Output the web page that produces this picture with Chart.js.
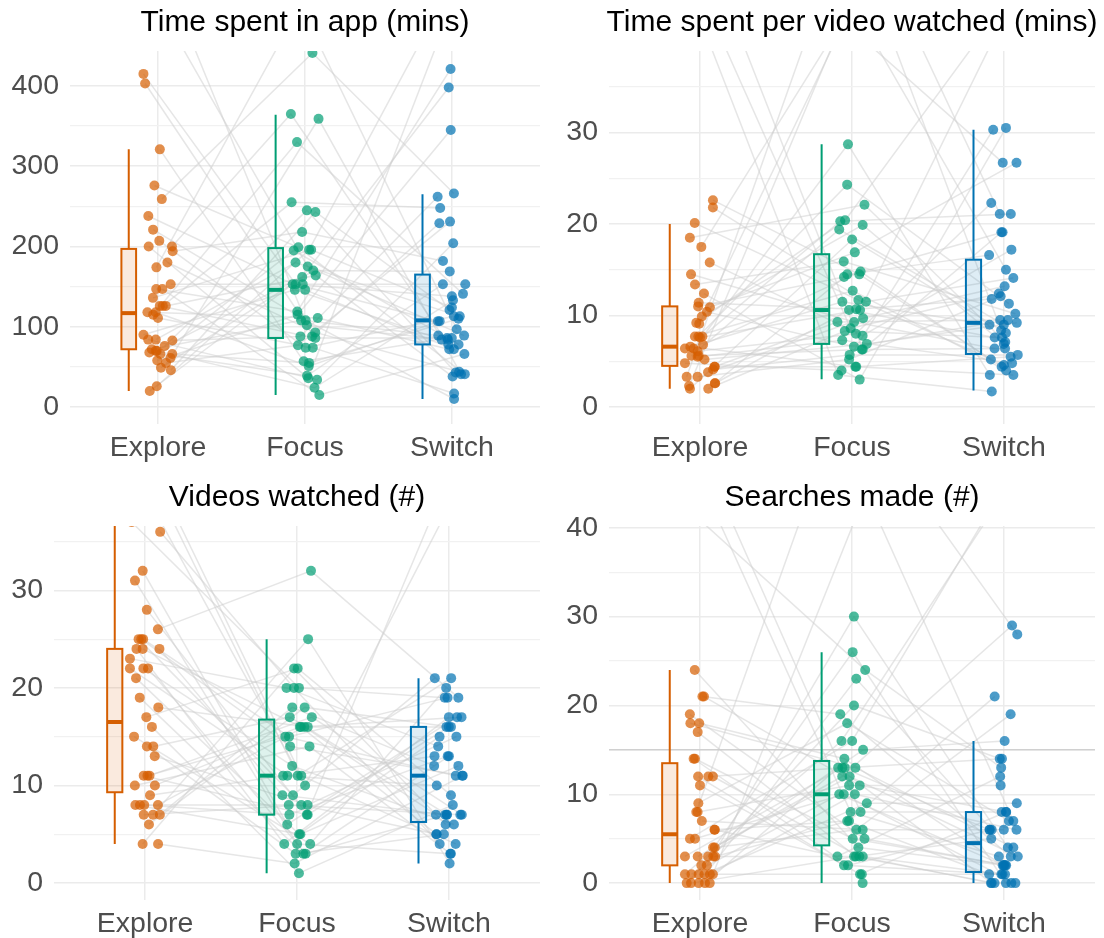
<!DOCTYPE html>
<html>
<head>
<meta charset="utf-8">
<script src="https://cdn.jsdelivr.net/npm/chart.js@4.4.1/dist/chart.umd.min.js"></script>
<style>
  body { margin: 0; background: #fff; }
  .panel { position: absolute; width: 552px; height: 469px; }
</style>
</head>
<body>
<div class="panel" style="left:0;top:0"><canvas id="c1" width="552" height="469"></canvas></div>
<div class="panel" style="left:552px;top:0"><canvas id="c2" width="552" height="469"></canvas></div>
<div class="panel" style="left:0;top:469px"><canvas id="c3" width="552" height="469"></canvas></div>
<div class="panel" style="left:552px;top:469px"><canvas id="c4" width="552" height="469"></canvas></div>
<script>
const groups = ['Explore', 'Focus', 'Switch'];
const colors = ['#D55E00', '#009E73', '#0072B2'];
const dots = ['rgba(213,94,0,0.7)', 'rgba(0,158,115,0.7)', 'rgba(0,114,178,0.7)'];
const fills = ['rgba(213,94,0,0.13)', 'rgba(0,158,115,0.13)', 'rgba(0,114,178,0.13)'];

// Time spent in app (mins) - one entry per participant, values past the top are clipped
const appExplore = [415, 520, 403, 321, 276, 70, 259, 238, 221, 207, 200, 480, 200, 194, 180, 174, 153, 147, 147, 136, 126, 126, 126, 118, 118, 115, 111, 90, 84, 84, 83, 76, 72, 70, 68, 66, 66, 61, 58, 55, 49, 46, 26, 20];
const appFocus = [153, 88, 102, 57, 199, 24, 441, 146, 108, 74, 365, 175, 36, 218, 93, 500, 153, 119, 15, 196, 164, 86, 255, 51, 111, 330, 74, 146, 34, 180, 88, 245, 108, 162, 39, 195, 55, 359, 115, 77, 170, 243, 196, 153];
const appSwitch = [107, 229, 84, 86, 41, 133, 266, 72, 10, 113, 78, 89, 530, 182, 44, 97, 153, 421, 66, 124, 38, 86, 248, 107, 72, 141, 17, 84, 204, 113, 262, 43, 89, 398, 153, 78, 110, 41, 345, 231, 169, 121, 500, 138];
// box stats: [low whisker, q1, median, q3, high whisker]
const appBoxes = [[20, 72, 117, 197, 321], [15, 86, 146, 198, 364], [10, 78, 108, 165, 265]];
const appTicks = [0, 100, 200, 300, 400];
const appMinor = [50, 150, 250, 350];

// Time spent per video watched (mins)
const vidExplore = [6.4, 22.6, 3.3, 45, 9.2, 5.6, 12.4, 2.0, 7.7, 17.5, 4.4, 10.9, 6.6, 2.6, 15.8, 7.7, 4.1, 11.0, 5.2, 20.1, 3.8, 9.9, 41, 6.1, 2.3, 13.4, 7.6, 4.8, 18.5, 5.5, 2.6, 10.4, 6.4, 3.3, 14.5, 7.7, 4.4, 21.8, 9.1, 2.0, 6.8, 48, 11.4, 5.6];
const vidFocus = [11.5, 14.5, 55, 8.6, 20.4, 6.3, 3.0, 18.3, 12.7, 44, 9.3, 16.9, 4.4, 10.6, 7.8, 24.3, 5.7, 14.2, 6.9, 11.7, 9.7, 19.9, 3.5, 8.0, 48, 15.9, 10.6, 4.0, 22.1, 7.3, 14.5, 6.6, 28.7, 5.2, 9.3, 20.3, 4.4, 11.5, 42, 8.3, 14.8, 6.3, 10.7, 19.4];
const vidSwitch = [9.0, 5.2, 21.1, 12.4, 46, 6.4, 30.5, 8.1, 4.0, 15.0, 9.5, 26.7, 3.5, 7.6, 17.2, 11.3, 5.7, 19.1, 9.2, 4.6, 13.2, 6.9, 1.7, 22.3, 8.4, 10.2, 43, 30.3, 7.1, 4.8, 16.6, 9.5, 3.5, 12.1, 6.4, 21.1, 5.5, 14.1, 26.7, 7.6, 4.4, 19.1, 11.8, 9.0];
const vidBoxes = [[2.0, 4.5, 6.6, 11.0, 20.0], [3.05, 6.9, 10.6, 16.7, 28.7], [1.8, 5.8, 9.2, 16.1, 30.3]];
const vidTicks = [0, 10, 20, 30];
const vidMinor = [5, 15, 25, 35];

// Videos watched (#)
const watchExplore = [22, 8, 37, 14, 25, 11, 6, 31, 44, 17, 24, 10, 8, 36, 13, 22, 4, 25, 11, 19, 7, 28, 9, 24, 15, 8, 40, 23, 10, 32, 7, 16, 25, 4, 21, 11, 41, 26, 8, 14, 22, 18, 7, 24];
const watchFocus = [11, 16, 20, 3, 14, 7, 18, 4, 11, 22, 9, 16, 5, 20, 8, 12, 2, 15, 17, 3, 25, 7, 11, 16, 4, 8, 10, 20, 14, 6, 18, 1, 9, 22, 5, 15, 11, 32, 7, 17, 3, 16, 8, 4];
const watchSwitch = [13, 7, 19, 5, 11, 42, 16, 3, 21, 9, 7, 17, 12, 4, 15, 6, 11, 19, 7, 13, 2, 16, 10, 5, 20, 7, 39, 14, 3, 17, 12, 8, 21, 6, 15, 11, 4, 19, 13, 7, 7, 16, 5, 17];
const watchBoxes = [[4, 9.3, 16.5, 24, 37], [1, 7, 11, 16.75, 25], [2, 6.25, 11, 16, 21]];
const watchTicks = [0, 10, 20, 30];
const watchMinor = [5, 15, 25, 35];

// Searches made (#)
const searchExplore = [3, 12, 0, 45, 8, 1, 21, 5, 14, 2, 6, 1, 18, 3, 0, 9, 4, 12, 1, 24, 3, 7, 0, 17, 42, 5, 11, 1, 19, 3, 6, 2, 14, 8, 0, 21, 4, 1, 18, 12, 48, 3, 0, 1];
const searchFocus = [13, 3, 20, 8, 55, 1, 11, 16, 5, 26, 3, 10, 13, 7, 0, 18, 12, 2, 9, 4, 15, 6, 13, 3, 24, 10, 1, 16, 5, 12, 7, 30, 2, 11, 3, 19, 6, 44, 14, 13, 8, 3, 23, 10];
const searchSwitch = [6, 0, 14, 3, 28, 1, 8, 45, 2, 0, 12, 6, 4, 21, 0, 7, 3, 1, 9, 2, 16, 6, 0, 5, 13, 0, 8, 42, 2, 29, 1, 4, 6, 11, 0, 3, 19, 7, 2, 14, 8, 1, 6, 2];
const searchBoxes = [[0, 2, 5.5, 13.5, 24], [0, 4.25, 10, 13.75, 26], [0, 1.25, 4.5, 8, 16]];
const searchTicks = [0, 10, 20, 30, 40];
const searchMinor = [5, 15, 25, 35];
const searchRefLine = [15];

Chart.defaults.font.family = "'Liberation Sans', Arial, sans-serif";

// fixed horizontal spread (about +-0.1 category) so the dots don't pile up
const jit = (i, g) => {
  const h = Math.sin(i * 12.9898 + g * 78.233) * 43758.5453;
  return ((h - Math.floor(h)) - 0.5) * 0.2;
};

const panelPlugin = {
  id: 'panel',
  beforeDatasetsDraw(chart, args, opts) {
    const { ctx, chartArea: a, scales: { y } } = chart;
    (opts.refLines || []).forEach(v => {
      const py = y.getPixelForValue(v);
      ctx.save();
      ctx.strokeStyle = '#bdbdbd';
      ctx.lineWidth = 1;
      ctx.beginPath(); ctx.moveTo(a.left, py); ctx.lineTo(a.right, py); ctx.stroke();
      ctx.restore();
    });
  },
  afterDatasetsDraw(chart, args, opts) {
    const { ctx, chartArea: a, scales: { x, y } } = chart;
    ctx.save();
    ctx.beginPath(); ctx.rect(a.left, a.top, a.width, a.height); ctx.clip();
    opts.boxes.forEach((b, g) => {
      const cx = x.getPixelForValue(g + 1 - 0.2);
      const half = (x.getPixelForValue(0.1) - x.getPixelForValue(0)) / 2;
      const [lo, q1, med, q3, hi] = b.map(v => y.getPixelForValue(v));
      ctx.strokeStyle = colors[g];
      ctx.lineWidth = 2;
      ctx.beginPath();
      ctx.moveTo(cx, hi); ctx.lineTo(cx, q3);
      ctx.moveTo(cx, q1); ctx.lineTo(cx, lo);
      ctx.stroke();
      ctx.fillStyle = fills[g];
      ctx.fillRect(cx - half, q3, half * 2, q1 - q3);
      ctx.strokeRect(cx - half, q3, half * 2, q1 - q3);
      ctx.lineWidth = 4;
      ctx.beginPath(); ctx.moveTo(cx - half, med); ctx.lineTo(cx + half, med); ctx.stroke();
    });
    ctx.restore();
  },
  afterDraw(chart, args, opts) {
    const { ctx, chartArea: a } = chart;
    ctx.save();
    ctx.fillStyle = '#000';
    ctx.font = "30px 'Liberation Sans', Arial, sans-serif";
    ctx.textAlign = 'center';
    ctx.textBaseline = 'middle';
    ctx.fillText(opts.title, (a.left + a.right) / 2, opts.titleY);
    ctx.restore();
  }
};

function makePanel(p) {
  const datasets = [];
  const n = p.series[0].length;
  for (let i = 0; i < n; i++) {
    datasets.push({
      type: 'line',
      showLine: true,
      data: p.series.map((s, g) => ({ x: g + 1 + jit(i, g), y: s[i] })),
      borderColor: 'rgba(205,205,205,0.5)',
      borderWidth: 1.5,
      pointRadius: 0,
      fill: false,
      clip: 0,
      order: 10
    });
  }
  p.series.forEach((s, g) => {
    datasets.push({
      type: 'scatter',
      data: s.map((v, i) => ({ x: g + 1 + jit(i, g), y: v })),
      backgroundColor: dots[g],
      borderWidth: 0,
      pointRadius: 5,
      clip: 0,
      order: 0
    });
  });

  const allY = [...p.major, ...p.minor].sort((a, b) => a - b);
  new Chart(document.getElementById(p.id), {
    type: 'scatter',
    data: { datasets },
    plugins: [panelPlugin],
    options: {
      responsive: false,
      animation: false,
      devicePixelRatio: 1,
      layout: { padding: { top: p.top, right: p.right, left: 0, bottom: 0 } },
      plugins: {
        legend: { display: false },
        tooltip: { enabled: false },
        panel: { title: p.title, titleY: p.titleY, boxes: p.boxes, refLines: p.refLines }
      },
      scales: {
        x: {
          type: 'linear', min: 0.4, max: 3.6,
          afterBuildTicks: s => { s.ticks = [1, 2, 3].map(v => ({ value: v })); },
          afterFit: s => { s.height = p.xHeight; },
          ticks: { callback: v => groups[v - 1], color: '#4d4d4d', font: { size: 28.5 }, padding: p.xPad, autoSkip: false, maxRotation: 0 },
          grid: { color: '#ebebeb', lineWidth: 1.5, drawTicks: false },
          border: { display: false }
        },
        y: {
          type: 'linear', min: p.yMin, max: p.yMax,
          afterBuildTicks: s => { s.ticks = allY.map(v => ({ value: v })); },
          afterFit: s => { s.width = p.left; },
          ticks: { callback: v => (p.major.includes(v) ? String(v) : ''), color: '#4d4d4d', font: { size: 28.5 }, padding: 11, autoSkip: false },
          grid: {
            color: c => (c.tick && p.major.includes(c.tick.value) ? '#ebebeb' : '#f1f1f1'),
            lineWidth: c => (c.tick && p.major.includes(c.tick.value) ? 1.5 : 1.2),
            drawTicks: false
          },
          border: { display: false }
        }
      }
    }
  });
}

makePanel({ id: 'c1', title: 'Time spent in app (mins)', series: [appExplore, appFocus, appSwitch], boxes: appBoxes,
  major: appTicks, minor: appMinor, yMin: -21.1, yMax: 443.5, left: 70, right: 12, top: 51, xHeight: 45, xPad: 7, titleY: 23 });
makePanel({ id: 'c2', title: 'Time spent per video watched (mins)', series: [vidExplore, vidFocus, vidSwitch], boxes: vidBoxes,
  major: vidTicks, minor: vidMinor, yMin: -1.85, yMax: 38.9, left: 57, right: 9, top: 51, xHeight: 45, xPad: 7, titleY: 23 });
makePanel({ id: 'c3', title: 'Videos watched (#)', series: [watchExplore, watchFocus, watchSwitch], boxes: watchBoxes,
  major: watchTicks, minor: watchMinor, yMin: -1.75, yMax: 36.6, left: 54, right: 12, top: 57, xHeight: 38, xPad: 7, titleY: 29 });
makePanel({ id: 'c4', title: 'Searches made (#)', series: [searchExplore, searchFocus, searchSwitch], boxes: searchBoxes,
  major: searchTicks, minor: searchMinor, yMin: -1.9, yMax: 40.2, left: 57, right: 9, top: 57, xHeight: 38, xPad: 7, titleY: 29, refLines: searchRefLine });
</script>
</body>
</html>
